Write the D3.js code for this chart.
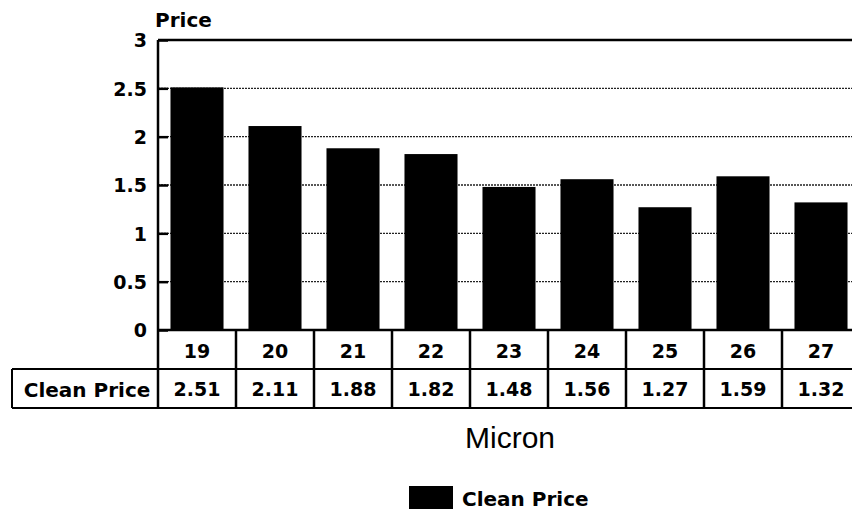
<!DOCTYPE html>
<html>
<head>
<meta charset="utf-8">
<script src="https://cdn.jsdelivr.net/npm/d3@7"></script>
<style>
  body { margin: 0; background: #fff; }
  svg { display: block; }
  text { fill: #000; }
</style>
</head>
<body>
<svg id="chart" width="852" height="510"></svg>
<script>
const microns = ["19", "20", "21", "22", "23", "24", "25", "26", "27"];
const cleanPrice = [2.51, 2.11, 1.88, 1.82, 1.48, 1.56, 1.27, 1.59, 1.32];
const yTicks = [0, 0.5, 1, 1.5, 2, 2.5, 3];
const seriesName = "Clean Price";

const width = 852;
const height = 510;
const plotLeft = 158, plotRight = 860, plotTop = 40, plotBottom = 330;
const rowH = 39;

const svg = d3.select("#chart");
const boldFont = "'DejaVu Sans', sans-serif";

// Scales
const xCell = d3.scaleBand().domain(microns).range([plotLeft, plotRight]).padding(0);
const xBar = d3.scaleBand().domain(microns).range([plotLeft, plotRight])
  .paddingInner(0.32).paddingOuter(0.16);
const yScale = d3.scaleLinear().domain([0, 3]).range([plotBottom, plotTop]);

// Gridlines
svg.append("g")
  .selectAll("line")
  .data(yTicks.filter(t => t > 0 && t < 3))
  .enter()
  .append("line")
  .attr("x1", plotLeft)
  .attr("x2", width)
  .attr("y1", d => yScale(d))
  .attr("y2", d => yScale(d))
  .attr("stroke", "#222")
  .attr("stroke-width", 1.3)
  .attr("stroke-dasharray", "2,1");

// Top border
svg.append("line")
  .attr("x1", plotLeft).attr("x2", width)
  .attr("y1", yScale(3)).attr("y2", yScale(3))
  .attr("stroke", "#000").attr("stroke-width", 2.5);

// Bars
svg.selectAll(".bar")
  .data(cleanPrice)
  .enter()
  .append("rect")
  .attr("class", "bar")
  .attr("x", (d, i) => xBar(microns[i]))
  .attr("y", d => yScale(d))
  .attr("width", xBar.bandwidth())
  .attr("height", d => yScale(0) - yScale(d))
  .attr("fill", "#000");

// Y axis
const yAxis = d3.axisLeft(yScale)
  .tickValues(yTicks)
  .tickSize(-10)
  .tickPadding(11)
  .tickFormat(d3.format("~g"));

const yg = svg.append("g")
  .attr("transform", `translate(${plotLeft},0)`)
  .call(yAxis);
yg.select(".domain").remove();
yg.selectAll(".tick line").attr("stroke", "#000").attr("stroke-width", 2.5);
yg.selectAll(".tick text")
  .attr("font-family", boldFont)
  .attr("font-weight", "bold")
  .attr("font-size", 19)
  .attr("dy", "0.36em");

svg.append("line")
  .attr("x1", plotLeft).attr("x2", plotLeft)
  .attr("y1", plotTop).attr("y2", plotBottom + 2 * rowH)
  .attr("stroke", "#000").attr("stroke-width", 2.5);

svg.append("text")
  .attr("x", 155)
  .attr("y", 27)
  .attr("font-family", boldFont)
  .attr("font-weight", "bold")
  .attr("font-size", 20)
  .text("Price");

// Data table
const table = svg.append("g");
table.append("line")
  .attr("x1", plotLeft).attr("x2", width)
  .attr("y1", plotBottom).attr("y2", plotBottom)
  .attr("stroke", "#000").attr("stroke-width", 2.5);
table.append("line")
  .attr("x1", 12).attr("x2", width)
  .attr("y1", plotBottom + rowH).attr("y2", plotBottom + rowH)
  .attr("stroke", "#000").attr("stroke-width", 2);
table.append("line")
  .attr("x1", 12).attr("x2", width)
  .attr("y1", plotBottom + 2 * rowH).attr("y2", plotBottom + 2 * rowH)
  .attr("stroke", "#000").attr("stroke-width", 2);
table.append("line")
  .attr("x1", 12).attr("x2", 12)
  .attr("y1", plotBottom + rowH).attr("y2", plotBottom + 2 * rowH)
  .attr("stroke", "#000").attr("stroke-width", 2);

table.selectAll(".divider")
  .data(microns.slice(1))
  .enter()
  .append("line")
  .attr("class", "divider")
  .attr("x1", d => xCell(d)).attr("x2", d => xCell(d))
  .attr("y1", plotBottom).attr("y2", plotBottom + 2 * rowH)
  .attr("stroke", "#000").attr("stroke-width", 2.5);

table.selectAll(".cat")
  .data(microns)
  .enter()
  .append("text")
  .attr("class", "cat")
  .attr("x", d => xCell(d) + xCell.bandwidth() / 2)
  .attr("y", plotBottom + rowH / 2 + 2)
  .attr("dy", "0.36em")
  .attr("text-anchor", "middle")
  .attr("font-family", boldFont)
  .attr("font-weight", "bold")
  .attr("font-size", 19)
  .text(d => d);

table.selectAll(".val")
  .data(cleanPrice)
  .enter()
  .append("text")
  .attr("class", "val")
  .attr("x", (d, i) => xCell(microns[i]) + xCell.bandwidth() / 2)
  .attr("y", plotBottom + rowH * 1.5 + 1)
  .attr("dy", "0.36em")
  .attr("text-anchor", "middle")
  .attr("font-family", boldFont)
  .attr("font-weight", "bold")
  .attr("font-size", 19)
  .text(d => d.toFixed(2));

table.append("text")
  .attr("x", (12 + plotLeft) / 2 + 2)
  .attr("y", plotBottom + rowH * 1.5 + 1)
  .attr("dy", "0.36em")
  .attr("text-anchor", "middle")
  .attr("font-family", boldFont)
  .attr("font-weight", "bold")
  .attr("font-size", 20)
  .text(seriesName);

// Axis title
svg.append("text")
  .attr("x", 510)
  .attr("y", 448)
  .attr("text-anchor", "middle")
  .attr("font-family", "'Liberation Sans', Arial, sans-serif")
  .attr("font-size", 30)
  .text("Micron");

// Legend
svg.append("rect")
  .attr("x", 409).attr("y", 486)
  .attr("width", 44).attr("height", 23)
  .attr("fill", "#000");
svg.append("text")
  .attr("x", 462)
  .attr("y", 506)
  .attr("font-family", boldFont)
  .attr("font-weight", "bold")
  .attr("font-size", 20)
  .text(seriesName);
</script>
</body>
</html>
